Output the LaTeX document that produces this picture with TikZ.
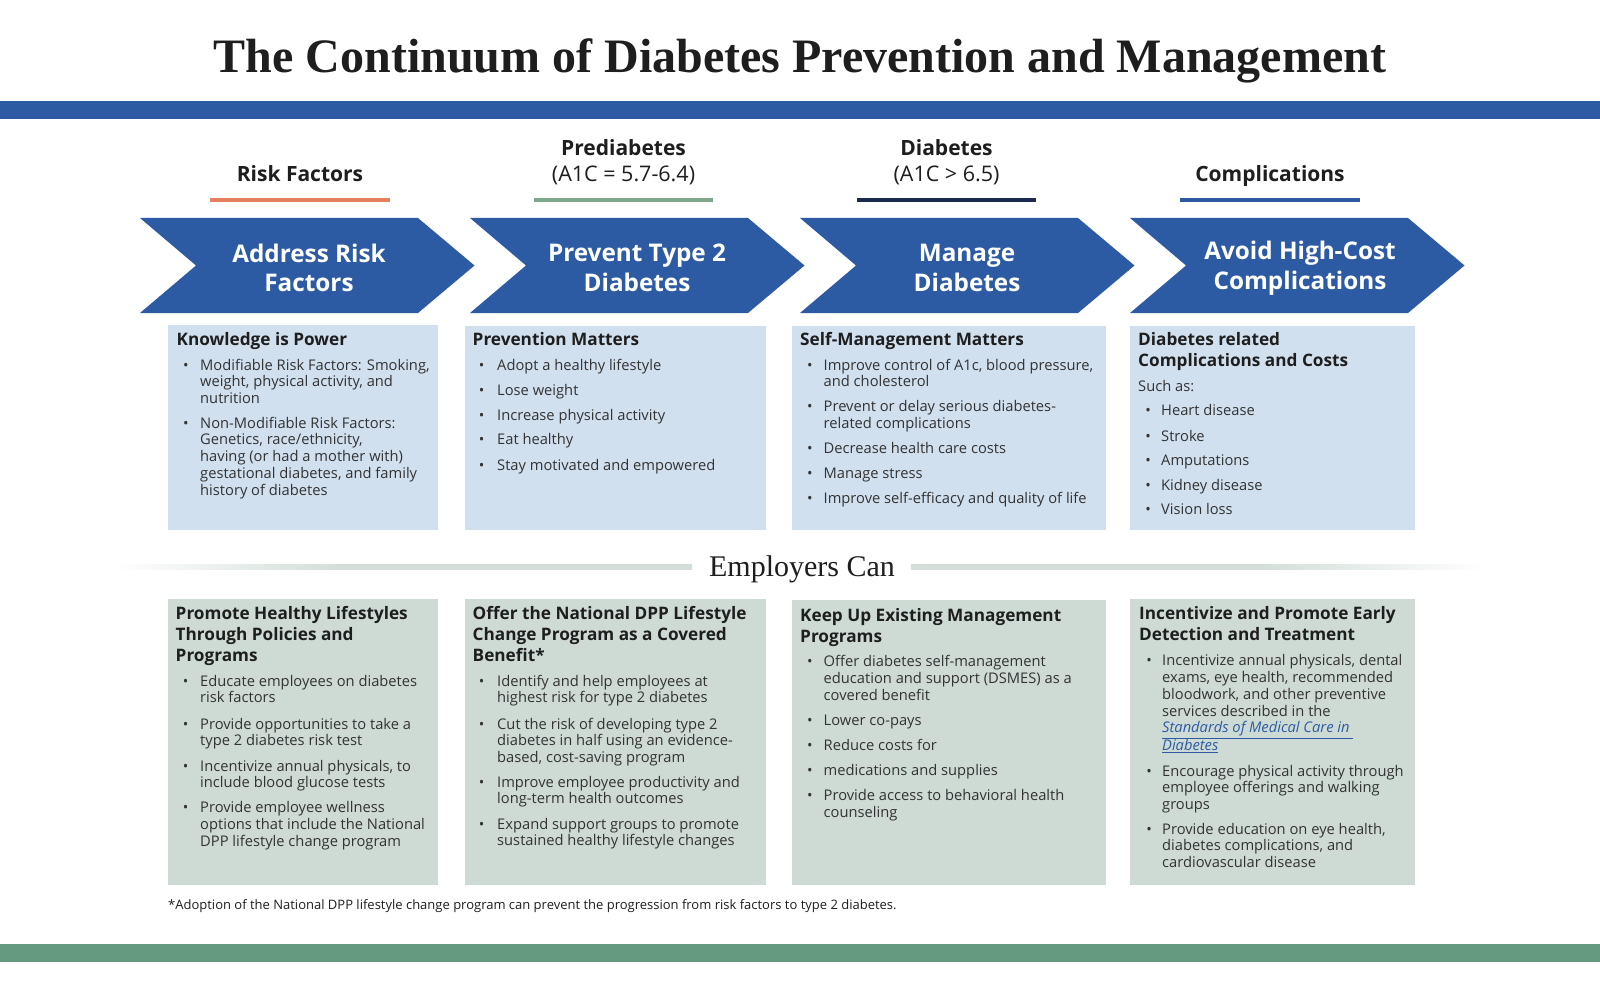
\documentclass[tikz,border=0pt]{standalone}
\usepackage{fontspec}
\setmainfont{Open Sans}
\newfontfamily\headserif{Liberation Serif}
\usetikzlibrary{calc}
\definecolor{mainblue}{HTML}{2D5BA3}
\definecolor{boxblue}{HTML}{D0E0EF}
\definecolor{boxgreen}{HTML}{CEDBD5}
\definecolor{bargreen}{HTML}{669A7F}
\definecolor{orangebar}{HTML}{E57F5E}
\definecolor{greenbar}{HTML}{7FA68C}
\definecolor{navybar}{HTML}{1B2A4E}
\definecolor{linecol}{HTML}{D3DED8}
\definecolor{txt}{HTML}{333333}
\definecolor{hdtxt}{HTML}{1E1E1E}
\definecolor{linkblue}{HTML}{2D5BA3}
\newcommand\ml[1]{\begin{tabular}[t]{@{}l@{}}#1\end{tabular}}
\pgfdeclarehorizontalshading{fadeleft}{100bp}{color(0bp)=(white); color(25bp)=(white); color(45bp)=(linecol); color(100bp)=(linecol)}
\pgfdeclarehorizontalshading{faderight}{100bp}{color(0bp)=(linecol); color(55bp)=(linecol); color(75bp)=(white); color(100bp)=(white)}
\begin{document}
\begin{tikzpicture}[x=1pt,y=-1pt,
  bt/.style={font=\fontsize{14.7}{16.8}\selectfont, text=txt, anchor=base west, inner sep=0pt},
  bul/.style={font=\fontsize{14.7}{16.8}\selectfont, text=txt, anchor=base, inner sep=0pt},
  hd/.style={font=\bfseries\fontsize{17.2}{21.2}\selectfont, text=hdtxt, anchor=base west, inner sep=0pt},
  colhd/.style={font=\bfseries\fontsize{21}{26}\selectfont, text=hdtxt, anchor=base, inner sep=0pt},
  colsub/.style={font=\fontsize{21.5}{26}\selectfont, text=hdtxt, anchor=base, inner sep=0pt},
  chevtext/.style={font=\bfseries\fontsize{24.3}{29.5}\selectfont, text=white, align=center, inner sep=0pt},
  chev/.style={fill=mainblue},
  upbox/.style={fill=boxblue},
  lowbox/.style={fill=boxgreen}
]
\useasboundingbox (0,0) rectangle (1600,1000);
\fill[white] (0,0) rectangle (1600,1000);

% title
\node[font=\headserif\bfseries\fontsize{48}{52}\selectfont, text=hdtxt, anchor=base, inner sep=0pt] (title) at (800,73) {The Continuum of Diabetes Prevention and Management};

% bars
\fill[mainblue] (0,101) rectangle (1600,119);
\fill[bargreen] (0,944) rectangle (1600,962);

% column headers
\node[colhd] (h1) at (300,181.5) {Risk Factors};
\node[colhd] (h2) at (623.5,156) {Prediabetes};
\node[colsub] (h2s) at (623.5,181.5) {(A1C = 5.7-6.4)};
\node[colhd] (h3) at (946.5,156) {Diabetes};
\node[colsub] (h3s) at (946.5,181.5) {(A1C > 6.5)};
\node[colhd] (h4) at (1270,181.5) {Complications};
\fill[orangebar] (210,198) rectangle (390,202);
\fill[greenbar] (534,198) rectangle (713,202);
\fill[navybar] (857,198) rectangle (1036,202);
\fill[mainblue] (1180,198) rectangle (1360,202);

% chevrons
\foreach \L/\nm in {140/c1,470/c2,800/c3,1130/c4}{
  \fill[chev] (\L,218) -- ({\L+278},218) -- ({\L+334.5},265.5) -- ({\L+278},313) -- (\L,313) -- ({\L+56},265.5) -- cycle;
}
\node[chevtext] (t1) at (309,268) {Address Risk\\Factors};
\node[chevtext] (t2) at (637,268) {Prevent Type 2\\Diabetes};
\node[chevtext] (t3) at (967,268) {Manage\\Diabetes};
\node[chevtext] (t4) at (1300,268) {Avoid High-Cost\\Complications};

% upper boxes
\fill[upbox] (168,325) rectangle (438,530);
\fill[upbox] (465,326) rectangle (766,530);
\fill[upbox] (792,326) rectangle (1106,530);
\fill[upbox] (1130,326) rectangle (1415,530);

% lower boxes
\fill[lowbox] (168,599) rectangle (438,885);
\fill[lowbox] (465,599) rectangle (766,885);
\fill[lowbox] (792,600) rectangle (1106,885);
\fill[lowbox] (1130,599) rectangle (1415,885);

% Employers Can separator
\shade[shading=fadeleft] (112,564.5) rectangle (692,569);
\shade[shading=faderight] (911,564.5) rectangle (1488,569);
\node[font=\headserif\fontsize{30}{32}\selectfont, text=hdtxt, anchor=base, inner sep=0pt] (emp) at (802,576) {Employers Can};

% ---------- upper box 1
\node[hd] (u1h) at (176.5,345) {Knowledge is Power};
\node[bul] (u1b1) at (186,370) {•};
\node[bt] (u1i1) at (200,370) {\ml{Modifiable Risk Factors: Smoking,\\weight, physical activity, and\\nutrition}};
\node[bul] (u1b2) at (186,428) {•};
\node[bt] (u1i2) at (200,428) {\ml{Non-Modifiable Risk Factors:\\Genetics, race/ethnicity,\\having (or had a mother with)\\gestational diabetes, and family\\history of diabetes}};

% ---------- upper box 2
\node[hd] (u2h) at (472.5,345.5) {Prevention Matters};
\foreach \y/\t [count=\i] in {370/Adopt a healthy lifestyle,395.5/Lose weight,420/Increase physical activity,444.5/Eat healthy,470/Stay motivated and empowered}{
  \node[bul] (u2b\i) at (481.6,\y) {•};
  \node[bt] (u2i\i) at (497,\y) {\t};
}

% ---------- upper box 3
\node[hd] (u3h) at (800,345.5) {Self-Management Matters};
\node[bul] (u3b1) at (810,370) {•};
\node[bt] (u3i1) at (823.5,370) {\ml{Improve control of A1c, blood pressure,\\and cholesterol}};
\node[bul] (u3b2) at (810,411.6) {•};
\node[bt] (u3i2) at (823.5,411.6) {\ml{Prevent or delay serious diabetes-\\related complications}};
\node[bul] (u3b3) at (810,453.5) {•};
\node[bt] (u3i3) at (823.5,453.5) {Decrease health care costs};
\node[bul] (u3b4) at (810,478) {•};
\node[bt] (u3i4) at (823.5,478) {Manage stress};
\node[bul] (u3b5) at (810,503.5) {•};
\node[bt] (u3i5) at (823.5,503.5) {Improve self-efficacy and quality of life};

% ---------- upper box 4
\node[hd] (u4h) at (1138,345.5) {\ml{Diabetes related\\Complications and Costs}};
\node[bt] (u4s) at (1138,391) {Such as:};
\foreach \y/\t [count=\i] in {415.7/Heart disease,441.2/Stroke,465.7/Amputations,490.2/Kidney disease,514.7/Vision loss}{
  \node[bul] (u4b\i) at (1148,\y) {•};
  \node[bt] (u4i\i) at (1161,\y) {\t};
}

% ---------- lower box 1
\node[hd] (l1h) at (175.5,619) {\ml{Promote Healthy Lifestyles\\Through Policies and\\Programs}};
\node[bul] (l1b1) at (185.7,686) {•};
\node[bt] (l1i1) at (200,686) {\ml{Educate employees on diabetes\\risk factors}};
\node[bul] (l1b2) at (185.7,729) {•};
\node[bt] (l1i2) at (200,729) {\ml{Provide opportunities to take a\\type 2 diabetes risk test}};
\node[bul] (l1b3) at (185.7,771) {•};
\node[bt] (l1i3) at (200,771) {\ml{Incentivize annual physicals, to\\include blood glucose tests}};
\node[bul] (l1b4) at (185.7,812.7) {•};
\node[bt] (l1i4) at (200,812.7) {\ml{Provide employee wellness\\options that include the National\\DPP lifestyle change program}};

% ---------- lower box 2
\node[hd] (l2h) at (472.5,619) {\ml{Offer the National DPP Lifestyle\\Change Program as a Covered\\Benefit*}};
\node[bul] (l2b1) at (481.6,686) {•};
\node[bt] (l2i1) at (497,686) {\ml{Identify and help employees at\\highest risk for type 2 diabetes}};
\node[bul] (l2b2) at (481.6,729) {•};
\node[bt] (l2i2) at (497,729) {\ml{Cut the risk of developing type 2\\diabetes in half using an evidence-\\based, cost-saving program}};
\node[bul] (l2b3) at (481.6,787) {•};
\node[bt] (l2i3) at (497,787) {\ml{Improve employee productivity and\\long-term health outcomes}};
\node[bul] (l2b4) at (481.6,829) {•};
\node[bt] (l2i4) at (497,829) {\ml{Expand support groups to promote\\sustained healthy lifestyle changes}};

% ---------- lower box 3
\node[hd] (l3h) at (800,621) {\ml{Keep Up Existing Management\\Programs}};
\node[bul] (l3b1) at (810,666.7) {•};
\node[bt] (l3i1) at (823.5,666.7) {\ml{Offer diabetes self-management\\education and support (DSMES) as a\\covered benefit}};
\node[bul] (l3b2) at (810,725) {•};
\node[bt] (l3i2) at (823.5,725) {Lower co-pays};
\node[bul] (l3b3) at (810,750.4) {•};
\node[bt] (l3i3) at (823.5,750.4) {Reduce costs for};
\node[bul] (l3b4) at (810,775) {•};
\node[bt] (l3i4) at (823.5,775) {medications and supplies};
\node[bul] (l3b5) at (810,800.4) {•};
\node[bt] (l3i5) at (823.5,800.4) {\ml{Provide access to behavioral health\\counseling}};

% ---------- lower box 4
\node[hd] (l4h) at (1139,619) {\ml{Incentivize and Promote Early\\Detection and Treatment}};
\node[bul] (l4b1) at (1149,665.7) {•};
\node[bt] (l4i1) at (1162,665.7) {\ml{Incentivize annual physicals, dental\\exams, eye health, recommended\\bloodwork, and other preventive\\services described in the\\{\color{linkblue}\underline{\itshape Standards of Medical Care in\ }}\\{\color{linkblue}\underline{\itshape Diabetes}}}};
\node[bul] (l4b2) at (1149,776) {•};
\node[bt] (l4i2) at (1162,776) {\ml{Encourage physical activity through\\employee offerings and walking\\groups}};
\node[bul] (l4b3) at (1149,834) {•};
\node[bt] (l4i3) at (1162,834) {\ml{Provide education on eye health,\\diabetes complications, and\\cardiovascular disease}};

% footnote
\node[font=\fontsize{13}{15}\selectfont, text=hdtxt, anchor=base west, inner sep=0pt] (fn) at (168,909.5) {*Adoption of the National DPP lifestyle change program can prevent the progression from risk factors to type 2 diabetes.};
\end{tikzpicture}
\end{document}
